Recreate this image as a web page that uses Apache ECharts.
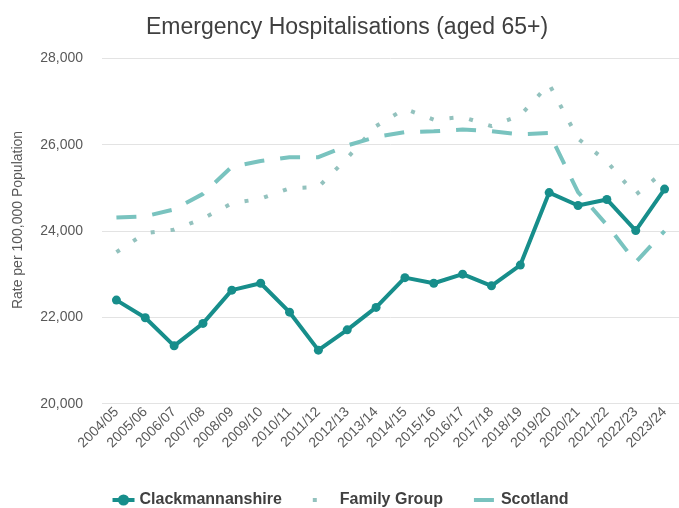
<!DOCTYPE html>
<html>
<head>
<meta charset="utf-8">
<script src="https://cdn.jsdelivr.net/npm/echarts@6/dist/echarts.min.js"></script>
<style>
html,body{margin:0;padding:0;background:#fff;}
#chart{width:679px;height:508px;}
</style>
</head>
<body>
<div id="chart"></div>
<script>
const categories = ['2004/05','2005/06','2006/07','2007/08','2008/09','2009/10','2010/11','2011/12','2012/13','2013/14','2014/15','2015/16','2016/17','2017/18','2018/19','2019/20','2020/21','2021/22','2022/23','2023/24'];
const clackmannanshire = [22400, 21990, 21340, 21860, 22630, 22790, 22120, 21240, 21710, 22230, 22920, 22790, 23000, 22730, 23210, 24890, 24590, 24730, 24010, 24970];
const familyGroup = [23510, 23950, 24030, 24290, 24640, 24750, 24990, 25020, 25690, 26430, 26830, 26580, 26640, 26430, 26680, 27400, 26140, 25610, 24840, 25390];
const scotland = [24310, 24340, 24500, 24860, 25490, 25620, 25710, 25710, 25980, 26180, 26290, 26310, 26350, 26310, 26240, 26270, 24900, 24140, 23280, 24000];

const FONT = 'Liberation Sans, Arial, sans-serif';
const chart = echarts.init(document.getElementById('chart'), null, {renderer: 'canvas'});
chart.setOption({
  animation: false,
  backgroundColor: '#ffffff',
  title: {
    text: 'Emergency Hospitalisations (aged 65+)',
    left: 141,
    top: 11,
    textStyle: {fontFamily: FONT, fontSize: 23, fontWeight: 'normal', color: '#404040'}
  },
  legend: {
    top: 487,
    left: 'center',
    itemWidth: 22,
    itemHeight: 14,
    itemGap: 29,
    textStyle: {fontFamily: FONT, fontSize: 16, fontWeight: 'bold', color: '#404040'},
    data: [
      {name: 'Clackmannanshire', lineStyle: {width: 4}},
      {name: 'Family Group', itemStyle: {opacity: 0}, lineStyle: {width: 4, type: [4, 30]}},
      {name: 'Scotland', itemStyle: {opacity: 0}, lineStyle: {width: 4}}
    ]
  },
  grid: {left: 102, right: -5, top: 58.3, bottom: 104.3, containLabel: false},
  xAxis: {
    type: 'category',
    data: categories,
    boundaryGap: true,
    axisLine: {show: false},
    axisTick: {show: false},
    axisLabel: {rotate: 45, margin: 6, interval: 0, fontFamily: FONT, fontSize: 14, color: '#595959'}
  },
  yAxis: {
    type: 'value',
    min: 20000,
    max: 28000,
    interval: 2000,
    name: 'Rate per 100,000 Population',
    nameLocation: 'middle',
    nameGap: 77,
    nameTextStyle: {fontFamily: FONT, fontSize: 14, color: '#595959', padding: [0, 0, 0, 22]},
    axisLine: {show: false},
    axisTick: {show: false},
    axisLabel: {margin: 19, fontFamily: FONT, fontSize: 14, color: '#595959',
      formatter: v => v.toLocaleString('en-GB')},
    splitLine: {lineStyle: {color: '#e3e3e3', width: 1}}
  },
  series: [
    {
      name: 'Clackmannanshire',
      type: 'line',
      data: clackmannanshire,
      symbol: 'circle',
      symbolSize: 9,
      itemStyle: {color: '#178e8b'},
      lineStyle: {color: '#178e8b', width: 4},
      z: 5
    },
    {
      name: 'Family Group',
      type: 'line',
      data: familyGroup,
      symbol: 'none',
      itemStyle: {color: '#93c2be'},
      lineStyle: {color: '#93c2be', width: 4, type: [4, 16]},
      z: 3
    },
    {
      name: 'Scotland',
      type: 'line',
      data: scotland,
      symbol: 'none',
      itemStyle: {color: '#79c3bf'},
      lineStyle: {color: '#79c3bf', width: 4, type: [20, 16]},
      z: 4
    }
  ]
});
</script>
</body>
</html>
